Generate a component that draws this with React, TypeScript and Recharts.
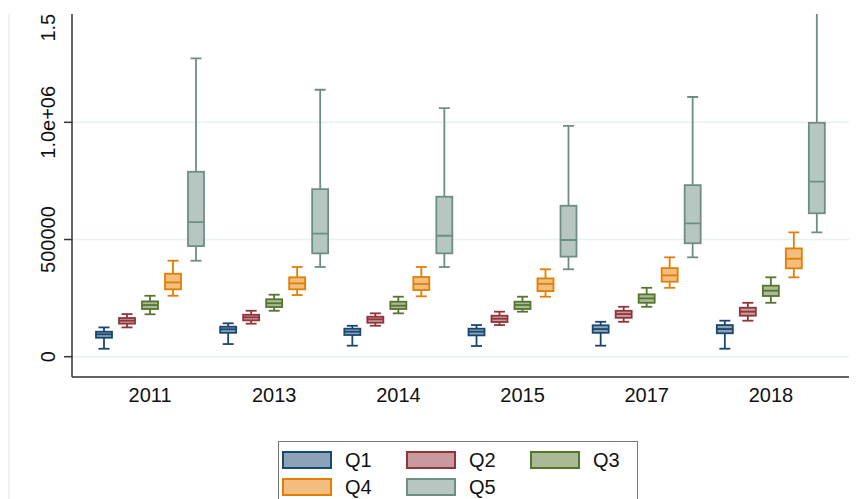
import React from 'react';
import { Bar, BarChart, CartesianGrid, Legend, XAxis, YAxis } from 'recharts';

const YEARS = ['2011', '2013', '2014', '2015', '2017', '2018'];
const SERIES = ['Q1', 'Q2', 'Q3', 'Q4', 'Q5'];

// per year: [lower adjacent, p25, median, p75, upper adjacent]
const Q1_BOXES = [
  [34000, 81000, 95600, 106600, 125000],
  [54000, 102000, 117000, 128000, 142500],
  [47000, 92600, 106600, 119500, 132000],
  [45600, 91000, 106600, 119500, 135000],
  [47000, 102000, 118000, 134000, 149000],
  [34000, 100000, 118000, 135000, 153600],
];
const Q2_BOXES = [
  [125000, 141000, 153600, 165000, 182000],
  [141000, 155000, 168000, 179000, 196000],
  [132000, 145000, 159500, 170600, 185000],
  [135000, 148000, 162000, 175000, 192000],
  [149000, 166000, 182000, 196000, 213000],
  [153600, 175000, 192000, 209000, 230000],
];
const Q3_BOXES = [
  [181000, 203500, 220500, 236000, 260000],
  [196000, 212000, 228000, 245000, 264500],
  [185000, 203500, 217600, 234600, 256000],
  [192000, 203500, 220500, 234600, 256000],
  [213000, 230000, 249000, 266000, 294000],
  [230000, 259000, 281600, 303000, 338700],
];
const Q4_BOXES = [
  [260000, 287500, 317000, 354000, 409500],
  [263000, 287500, 313000, 338700, 382700],
  [257700, 284500, 310000, 340000, 382700],
  [256000, 280000, 311000, 334000, 373000],
  [294000, 320000, 347000, 378000, 424000],
  [338700, 377000, 418000, 462000, 530700],
];
const Q5_BOXES = [
  [409500, 472000, 574600, 789000, 1273000],
  [382700, 441000, 525000, 715000, 1139000],
  [382700, 441000, 516000, 682600, 1061000],
  [373000, 427000, 498000, 644000, 985000],
  [424000, 484000, 569000, 732000, 1108000],
  [530700, 612000, 746600, 998000, 1560000],
];

const Y_TICKS = [0, 500000, 1000000, 1500000];
const Y_TICK_LABELS = ['0', '500000', '1.0e+06', '1.5e+06'];

const STROKES = ['#1a476f', '#90353b', '#55752f', '#e37e00', '#6e8e84'];
const FILLS = ['#8ca3b7', '#c89a9d', '#aaba97', '#f1be80', '#b6c6c1'];

const ALL_BOXES = [Q1_BOXES, Q2_BOXES, Q3_BOXES, Q4_BOXES, Q5_BOXES];
const rows = YEARS.map((year, i) => ({ year, boxes: ALL_BOXES.map((b) => b[i]) }));

const FONT = '"Liberation Sans", Arial, sans-serif';

const BoxShape = (props: any) => {
  const { x, y, width, height, payload, q } = props;
  const [lo, p25, med, p75, hi] = payload.boxes[q];
  const top = Math.min(y, y + height);
  const bottom = Math.max(y, y + height);
  // linear scale between the bar ends, which recharts placed at lo / hi
  const toY = (v: number) => bottom - ((v - lo) / (hi - lo)) * (bottom - top);
  const cx = x + width / 2;
  const cap = 11;
  const stroke = STROKES[q];
  const sw = 1.8;
  return (
    <g>
      <line x1={cx} x2={cx} y1={toY(hi)} y2={toY(p75)} stroke={stroke} strokeWidth={sw} />
      <line x1={cx} x2={cx} y1={toY(p25)} y2={toY(lo)} stroke={stroke} strokeWidth={sw} />
      <line x1={cx - cap / 2} x2={cx + cap / 2} y1={toY(hi)} y2={toY(hi)} stroke={stroke} strokeWidth={sw} />
      <line x1={cx - cap / 2} x2={cx + cap / 2} y1={toY(lo)} y2={toY(lo)} stroke={stroke} strokeWidth={sw} />
      <rect
        x={x}
        y={toY(p75)}
        width={width}
        height={toY(p25) - toY(p75)}
        fill={FILLS[q]}
        stroke={stroke}
        strokeWidth={sw}
      />
      <line x1={x} x2={x + width} y1={toY(med)} y2={toY(med)} stroke={stroke} strokeWidth={sw} />
    </g>
  );
};

const YTick = (props: any) => {
  const { x, y, payload } = props;
  const label = Y_TICK_LABELS[Y_TICKS.indexOf(payload.value)];
  return (
    <text
      x={0}
      y={0}
      transform={`translate(${x},${y}) rotate(-90)`}
      textAnchor="middle"
      fontSize={20}
      fontFamily={FONT}
      fill="#111"
    >
      {label}
    </text>
  );
};

const LegendBox = (props: any) => {
  const items = props.payload || [];
  return (
    <div
      style={{
        position: 'relative',
        width: 360,
        height: 80,
        boxSizing: 'border-box',
        border: '1.5px solid #777',
        background: '#fff',
        fontFamily: FONT,
      }}
    >
      {items.map((entry: any) => {
        const i = SERIES.indexOf(entry.value);
        const col = i % 3;
        const row = Math.floor(i / 3);
        return (
          <div
            key={entry.value}
            style={{
              position: 'absolute',
              left: 3 + col * 124,
              top: 8 + row * 27,
              display: 'flex',
              alignItems: 'center',
              height: 20,
            }}
          >
            <span
              style={{
                display: 'inline-block',
                width: 50,
                height: 18,
                boxSizing: 'border-box',
                background: FILLS[i],
                border: `2px solid ${STROKES[i]}`,
              }}
            />
            <span style={{ marginLeft: 13, fontSize: 20, color: '#111', lineHeight: '20px' }}>
              {entry.value}
            </span>
          </div>
        );
      })}
    </div>
  );
};

export default function App() {
  return (
    <div
      style={{
        position: 'absolute',
        left: 0,
        top: 0,
        width: 860,
        height: 499,
        background: '#fff',
        overflow: 'hidden',
      }}
    >
      <div style={{ position: 'absolute', left: 0, top: 14, width: 860, height: 485, overflow: 'hidden' }}>
        <div style={{ position: 'absolute', left: 8, top: 0, width: 2, height: 485, background: '#eef3f3' }} />
        <div style={{ position: 'absolute', left: 0, top: -54 }}>
          <BarChart
            width={860}
            height={560}
            data={rows}
            margin={{ top: 21.7, right: 11, bottom: 113, left: 0 }}
            barSize={16}
            barGap={7}
          >
            <CartesianGrid vertical={false} stroke="#e9f0f0" strokeWidth={1.5} />
            <XAxis
              dataKey="year"
              tickLine={false}
              tickSize={0}
              tickMargin={11}
              padding={{ left: 16, right: 16 }}
              axisLine={{ stroke: '#333', strokeWidth: 1.5 }}
              tick={{ fontSize: 20, fill: '#111', fontFamily: FONT }}
            />
            <YAxis
              width={72}
              domain={[-86600, 1600000]}
              allowDataOverflow
              ticks={Y_TICKS}
              tickSize={8}
              tickMargin={9}
              tickLine={{ stroke: '#333', strokeWidth: 1.5 }}
              axisLine={{ stroke: '#333', strokeWidth: 1.5 }}
              tick={<YTick />}
            />
            {SERIES.map((name, q) => (
              <Bar
                key={name}
                name={name}
                dataKey={(row: any) => [row.boxes[q][0], row.boxes[q][4]]}
                fill={FILLS[q]}
                stroke={STROKES[q]}
                isAnimationActive={false}
                shape={(p: any) => <BoxShape {...p} q={q} />}
              />
            ))}
            <Legend
              layout="horizontal"
              verticalAlign="middle"
              align="center"
              content={<LegendBox />}
              wrapperStyle={{ position: 'absolute', left: 278, top: 481, width: 360, height: 80 }}
            />
          </BarChart>
        </div>
      </div>
    </div>
  );
}
